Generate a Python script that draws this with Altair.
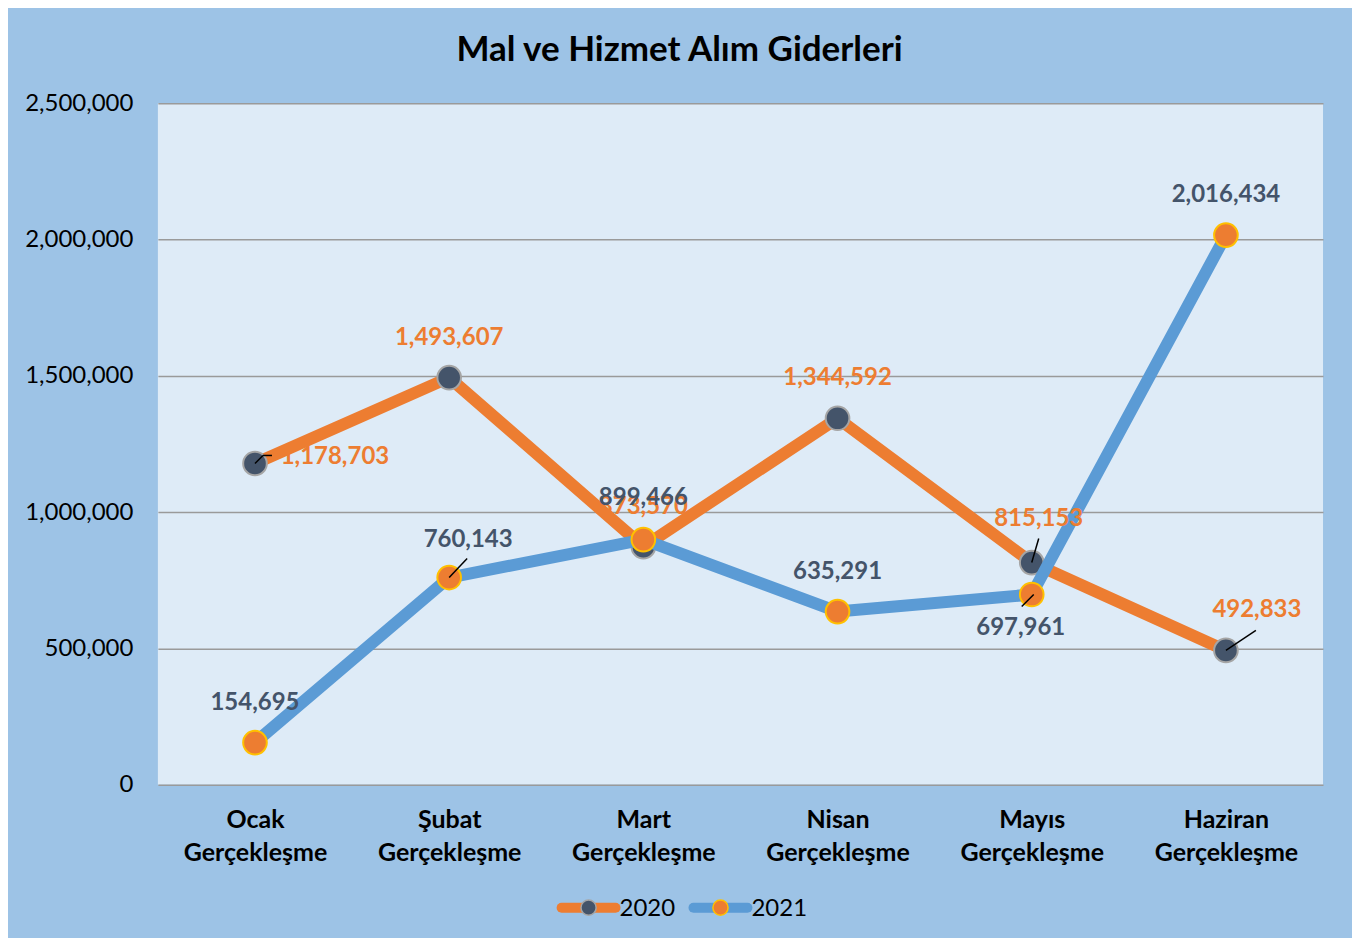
import altair as alt
import pandas as pd

categories = ["Ocak Gerçekleşme", "Şubat Gerçekleşme", "Mart Gerçekleşme",
              "Nisan Gerçekleşme", "Mayıs Gerçekleşme", "Haziran Gerçekleşme"]
series_names = ["2020", "2021"]
values_2020 = [1178703, 1493607, 873570, 1344592, 815153, 492833]
values_2021 = [154695, 760143, 899466, 635291, 697961, 2016434]
y_ticks = [0, 500000, 1000000, 1500000, 2000000, 2500000]

df = pd.DataFrame({
    "cat": categories * 2,
    "series": [series_names[0]] * 6 + [series_names[1]] * 6,
    "value": values_2020 + values_2021,
})

FONT = "Lato"
ORANGE = "#ED7D31"
BLUE = "#5B9BD5"
DARK = "#44546A"
GOLD = "#FFC000"

xenc = alt.X("cat:N", sort=categories, title=None,
             scale=alt.Scale(type="point", padding=0.5),
             axis=alt.Axis(labelExpr="split(datum.label, ' ')", labelFont=FONT,
                           labelFontSize=25, labelFontWeight="bold", labelColor="black",
                           labelLineHeight=33, labelBaseline="top", labelPadding=23,
                           ticks=False, domain=False, grid=False, labelAngle=0))
yenc = alt.Y("value:Q", title=None,
             scale=alt.Scale(domain=[0, 2500000], nice=False),
             axis=alt.Axis(values=y_ticks, labelExpr="format(datum.value, ',')",
                           labelFont=FONT, labelFontSize=24,
                           labelColor="black", labelPadding=25, ticks=False, domain=False,
                           grid=True, gridColor="#9A9A9A", gridWidth=1.5))

base = alt.Chart(df)


def sel(s, cats):
    return base.transform_filter(alt.datum.series == s).transform_filter(
        alt.FieldOneOfPredicate(field="cat", oneOf=cats))


def line_layer(s, color):
    return base.transform_filter(alt.datum.series == s).mark_line(
        color=color, strokeWidth=12, strokeCap="round", strokeJoin="round"
    ).encode(x=xenc, y=yenc)


def point_layer(s, fill, stroke):
    return base.transform_filter(alt.datum.series == s).mark_point(
        shape="circle", filled=True, size=560, fill=fill, stroke=stroke,
        strokeWidth=2, opacity=1
    ).encode(x=xenc, y=yenc)


def label_layer(s, cats, color, dx, dy):
    return sel(s, cats).mark_text(
        font=FONT, fontSize=24, fontWeight="bold", color=color,
        dx=dx, dy=dy, align="center", baseline="middle").encode(
        x=xenc, y=yenc, text=alt.Text("value:Q", format=","))


def leader(s, cat, ox, oy, ex, ey):
    return sel(s, [cat]).mark_rule(
        color="black", strokeWidth=1.5, xOffset=ox, yOffset=oy,
        x2Offset=ex, y2Offset=ey).encode(
        x=xenc, y=yenc, x2=alt.X2("cat:N"), y2=alt.Y2("value:Q"))


layers = [
    line_layer("2020", ORANGE),
    point_layer("2020", DARK, "#A5A5A5"),
    line_layer("2021", BLUE),
    point_layer("2021", ORANGE, GOLD),
    # leader lines
    leader("2020", categories[0], 0, 0, 8, -8),
    leader("2020", categories[0], 8, -8, 17, -8),
    leader("2020", categories[4], 0, 0, 7, -24),
    leader("2020", categories[5], 0, 0, 30, -20),
    leader("2021", categories[1], 0, 0, 18, -19),
    leader("2021", categories[4], 2, 0, -10, 12),
    # 2020 labels
    label_layer("2020", [categories[1], categories[2], categories[3]], ORANGE, 0, -40),
    label_layer("2020", [categories[0]], ORANGE, 80, -6),
    label_layer("2020", [categories[4]], ORANGE, 7, -44),
    label_layer("2020", [categories[5]], ORANGE, 31, -40),
    # 2021 labels
    label_layer("2021", [categories[0], categories[3], categories[5]], DARK, 0, -40),
    label_layer("2021", [categories[2]], DARK, 0, -42),
    label_layer("2021", [categories[1]], DARK, 19, -38),
    label_layer("2021", [categories[4]], DARK, -11, 34),
]

# manual legend
leg_specs = [("2020", ORANGE, DARK, "#A5A5A5", 404, 462), ("2021", BLUE, ORANGE, GOLD, 536, 594)]
LEG_Y = 805
for name, lc, mf, ms, x0, x1 in leg_specs:
    ldf = pd.DataFrame({"series": [name]})
    lb = alt.Chart(ldf)
    layers.append(lb.mark_rule(color=lc, strokeWidth=10, strokeCap="round").encode(
        x=alt.value(x0), x2=alt.value(x1 - 4), y=alt.value(LEG_Y)))
    layers.append(lb.mark_point(shape="circle", filled=True, size=230, fill=mf, stroke=ms,
                                strokeWidth=1.5, opacity=1).encode(
        x=alt.value((x0 + x1 - 4) / 2), y=alt.value(LEG_Y)))
    layers.append(lb.mark_text(font=FONT, fontSize=24, color="black", align="left",
                               baseline="middle").encode(
        x=alt.value(x1), y=alt.value(LEG_Y + 1), text="series:N"))

chart = alt.layer(*layers).properties(
    width=1166, height=682,
    padding={"left": 150, "top": 95, "right": 29, "bottom": 153},
    autosize=alt.AutoSizeParams(type="none"),
    background="#9DC3E6",
    title=alt.TitleParams("Mal ve Hizmet Alım Giderleri", font=FONT, fontSize=35,
                          fontWeight="bold", color="black", anchor="middle",
                          frame="group", dx=-61, offset=23),
).configure_view(fill="#DEEBF7", stroke=None)

chart.save("out.html", embed_options={"renderer": "svg", "actions": False})
